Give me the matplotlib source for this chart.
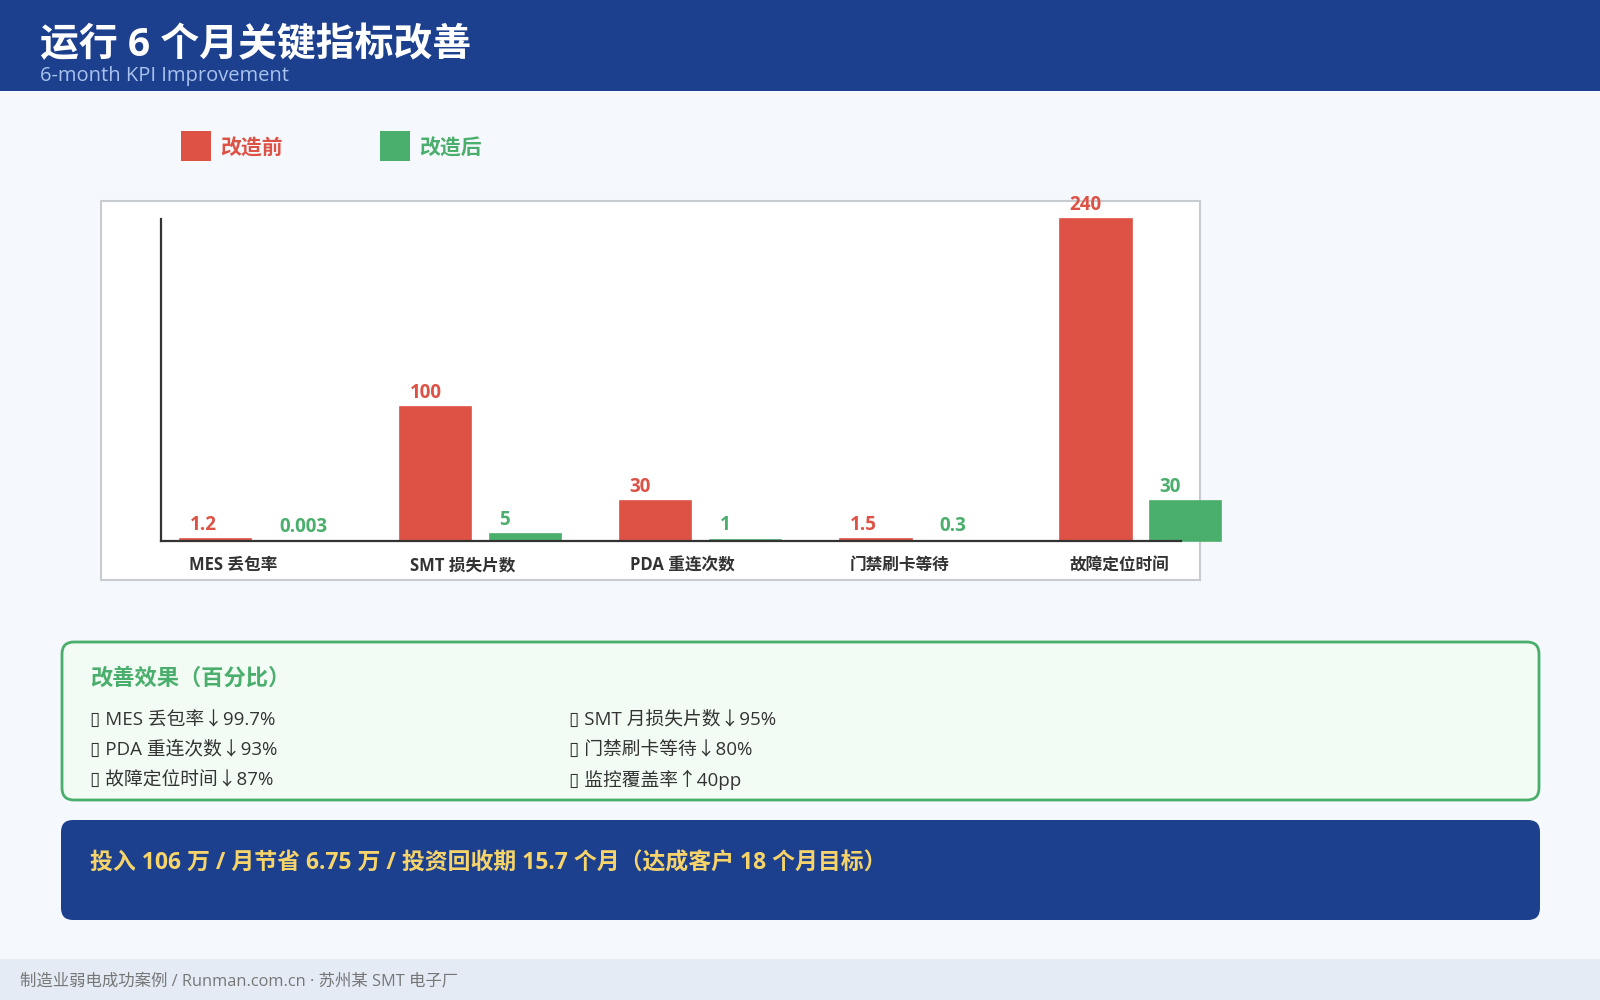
import matplotlib.pyplot as plt
from matplotlib.patches import Rectangle, FancyBboxPatch
import numpy as np

plt.rcParams['font.family'] = ['Open Sans', 'Noto Sans CJK SC', 'DejaVu Sans']

# data
categories = ['MES 丢包率', 'SMT 损失片数', 'PDA 重连次数', '门禁刷卡等待', '故障定位时间']
before = [1.2, 100, 30, 1.5, 240]
after = [0.003, 5, 1, 0.3, 30]
series_names = ['改造前', '改造后']
effects = ['▯ MES 丢包率↓99.7%', '▯ SMT 月损失片数↓95%',
           '▯ PDA 重连次数↓93%', '▯ 门禁刷卡等待↓80%',
           '▯ 故障定位时间↓87%', '▯ 监控覆盖率↑40pp']
summary = '投入 106 万 / 月节省 6.75 万 / 投资回收期 15.7 个月（达成客户 18 个月目标）'
footer = '制造业弱电成功案例 / Runman.com.cn · 苏州某 SMT 电子厂'

RED = '#de5246'
GREEN = '#4aae6c'
NAVY = '#1c408e'

fig = plt.figure(figsize=(16, 10), dpi=100)
fig.patch.set_facecolor('#f5f8fc')

# background layer in pixel coords
bg = fig.add_axes([0, 0, 1, 1])
bg.set_xlim(0, 1600)
bg.set_ylim(1000, 0)
bg.axis('off')

bg.add_patch(Rectangle((0, 0), 1600, 91, color=NAVY, lw=0))
bg.text(40, 46, '运行 6 个月关键指标改善', color='white', fontsize=28,
        fontweight='bold', va='center', ha='left')
bg.text(40, 76, '6-month KPI Improvement', color='#a9c3ee', fontsize=14.5,
        va='center', ha='left')

# legend
for k, (name, col) in enumerate(zip(series_names, [RED, GREEN])):
    x0 = 181 + k * 199
    bg.add_patch(Rectangle((x0, 131), 30, 30, color=col, lw=0))
    bg.text(x0 + 39, 149, name, color=col, fontsize=15, fontweight='bold',
            va='center', ha='left')

# chart frame
bg.add_patch(Rectangle((101, 201), 1099, 379, facecolor='white',
                       edgecolor='#c8cbd0', lw=1.5))

# effects box
bg.add_patch(FancyBboxPatch((62, 642), 1477, 158,
                            boxstyle='round,pad=0,rounding_size=12',
                            facecolor='#f3fcf4', edgecolor=GREEN, lw=2))
bg.text(90, 679, '改善效果（百分比）', color=GREEN, fontsize=16,
        fontweight='bold', va='center', ha='left')
for j, item in enumerate(effects):
    col = j % 2
    row = j // 2
    bg.text(90 + col * 479, 720 + row * 30, item, color='#333333',
            fontsize=13.5, va='center', ha='left')

# summary box
bg.add_patch(FancyBboxPatch((61, 820), 1479, 100,
                            boxstyle='round,pad=0,rounding_size=12',
                            facecolor=NAVY, edgecolor='none'))
bg.text(90, 864, summary, color='#f6d46a', fontsize=16.5, fontweight='bold',
        va='center', ha='left')

# footer
bg.add_patch(Rectangle((0, 959), 1600, 41, color='#e4ebf5', lw=0))
bg.text(20, 981, footer, color='#777777', fontsize=11.8, va='center', ha='left')

# bar chart
ax = fig.add_axes([161 / 1600, 1 - 541 / 1000, 1020 / 1600, 322 / 1000])
ax.patch.set_alpha(0)
x = np.arange(len(categories))
w = 0.325
off = 0.204
ax.bar(x - off, before, w, color=RED, edgecolor=RED, linewidth=1.2,
       clip_on=False, zorder=2)
ax.bar(x + off, after, w, color=GREEN, edgecolor=GREEN, linewidth=1.2,
       clip_on=False, zorder=2)
ax.set_xlim(-0.452, 4.183)
ax.set_ylim(0, 240)
for s in ['top', 'right']:
    ax.spines[s].set_visible(False)
for s in ['left', 'bottom']:
    ax.spines[s].set_color('#333333')
    ax.spines[s].set_linewidth(1.6)
    ax.spines[s].set_zorder(3)
ax.set_xticks([])
ax.set_yticks([])

for i in range(len(categories)):
    ax.annotate('{:g}'.format(before[i]), (x[i] - off - w / 2 + 0.044, before[i]),
                xytext=(0, 3), textcoords='offset points', ha='left', va='bottom',
                color=RED, fontsize=13.5, fontweight='bold', annotation_clip=False)
    ax.annotate('{:g}'.format(after[i]), (x[i] + off - w / 2 + 0.044, after[i]),
                xytext=(0, 3), textcoords='offset points', ha='left', va='bottom',
                color=GREEN, fontsize=13.5, fontweight='bold', annotation_clip=False)
    ax.annotate(categories[i], (x[i] - 0.3225, 0), xytext=(0, -17.5),
                textcoords='offset points', ha='left', va='center',
                color='#333333', fontsize=12, fontweight='bold',
                annotation_clip=False)

fig.savefig('out.png', dpi=100, facecolor=fig.get_facecolor())
